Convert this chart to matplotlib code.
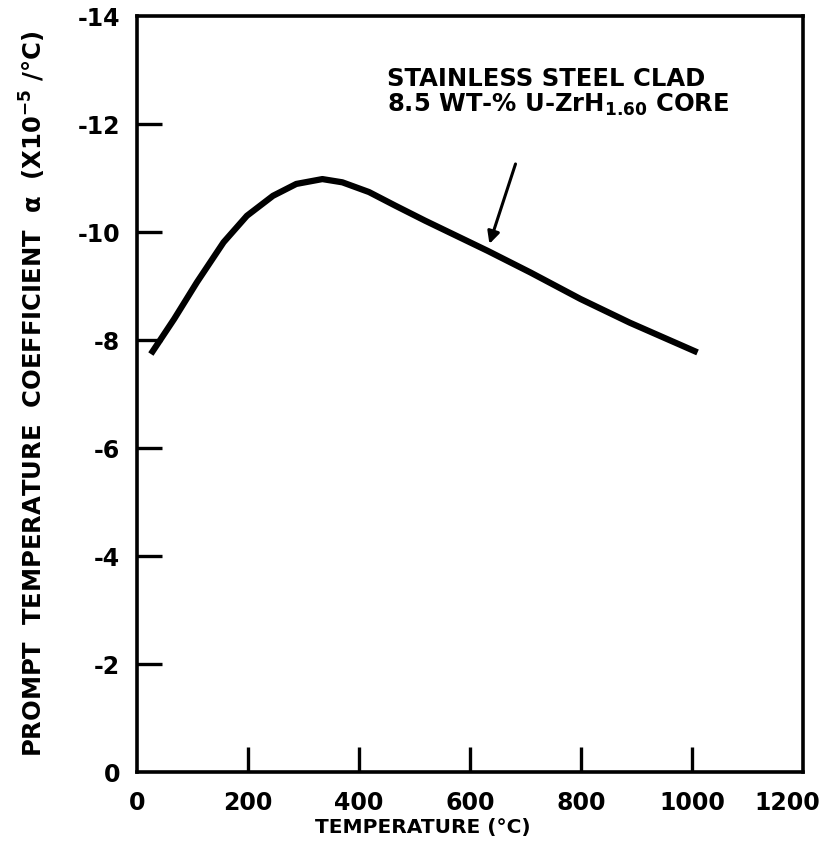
import matplotlib
matplotlib.use("Agg")
import matplotlib.pyplot as plt
from matplotlib.transforms import ScaledTranslation

plt.rcParams["font.family"] = ["DejaVu Sans"]
plt.rcParams["font.weight"] = "bold"
plt.rcParams["mathtext.fontset"] = "dejavusans"
plt.rcParams["mathtext.default"] = "bf"

# prompt temperature coefficient vs fuel temperature (units of 1e-5 per degC)
temp_c = [25, 67, 108, 156, 198, 245, 287, 334, 370, 418, 465, 519, 632, 709, 799, 888, 1010]
alpha = [-7.74, -8.39, -9.07, -9.81, -10.30, -10.67, -10.89, -10.98, -10.92, -10.74,
         -10.49, -10.21, -9.65, -9.25, -8.76, -8.32, -7.77]

x_ticks = [0, 200, 400, 600, 800, 1000, 1200]
y_ticks = [0, -2, -4, -6, -8, -10, -12, -14]

fig = plt.figure(figsize=(8.28, 8.68), dpi=100)
fig.patch.set_facecolor("white")
ax = fig.add_axes([137 / 828, 96 / 868, 666 / 828, 756 / 868])

ax.plot(temp_c, alpha, color="black", linewidth=4.5, solid_capstyle="butt")

ax.set_xlim(0, 1200)
ax.set_ylim(0, -14)
ax.set_xticks(x_ticks)
ax.set_yticks(y_ticks)
ax.set_xticklabels([str(t) for t in x_ticks])
ax.set_yticklabels(["0"] + [f"-{abs(t)}" for t in y_ticks[1:]])

for side in ax.spines.values():
    side.set_linewidth(2.6)

ax.tick_params(axis="both", direction="in", length=18, width=2.4, labelsize=17)
ax.tick_params(axis="x", pad=14)
ax.tick_params(axis="y", pad=12)

# hide the corner ticks that sit on the frame
for tick in ax.xaxis.get_major_ticks()[::len(x_ticks) - 1]:
    tick.tick1line.set_visible(False)
for tick in ax.yaxis.get_major_ticks()[::len(y_ticks) - 1]:
    tick.tick1line.set_visible(False)

# pull the last x label in so it stays on the page
last = ax.get_xticklabels()[-1]
last.set_transform(last.get_transform() + ScaledTranslation(-11 / 72, 0, fig.dpi_scale_trans))

ax.text(450, -12.84, "STAINLESS STEEL CLAD", fontsize=17.5, fontweight="bold",
        ha="left", va="center")
ax.text(450, -12.35, "8.5 WT-% U-ZrH$_{1.60}$ CORE", fontsize=17.5, fontweight="bold",
        ha="left", va="center")

ax.annotate("", xy=(635, -9.78), xytext=(682, -11.26),
            arrowprops=dict(arrowstyle="-|>", color="black", lw=2.2,
                            mutation_scale=18, shrinkA=0, shrinkB=0))

fig.text(423 / 828, 1 - 828 / 868, "TEMPERATURE (°C)", fontsize=14.5,
         fontweight="bold", ha="center", va="center")
fig.text(33 / 828, 1 - 394 / 868,
         "PROMPT  TEMPERATURE  COEFFICIENT  $\\alpha$  (X10$^{-5}$ /°C)",
         fontsize=17.5, fontweight="bold", rotation=90, ha="center", va="center")

fig.savefig("out.png", dpi=100)
plt.close(fig)
